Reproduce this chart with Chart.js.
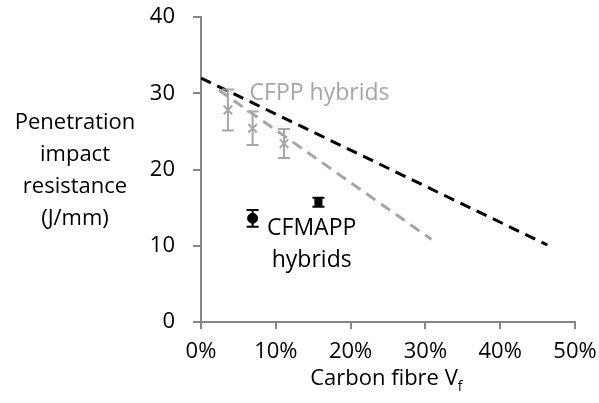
<!DOCTYPE html>
<html>
<head>
<meta charset="utf-8">
<script src="https://cdn.jsdelivr.net/npm/chart.js@4"></script>
<style>
  html, body { margin: 0; padding: 0; background: #fff; }
  #wrap { width: 599px; height: 403px; }
</style>
</head>
<body>
<div id="wrap"><canvas id="chart" width="599" height="403"></canvas></div>
<script>
// x tick labels (carbon fibre volume fraction, %)
const xTicks = [0, 10, 20, 30, 40, 50];
const yTicks = [0, 10, 20, 30, 40];

// CFPP hybrids (grey crosses with error bars)
const cfppX = [3.6, 6.9, 11.1];
const cfppY = [27.8, 25.4, 23.4];
const cfppErr = [2.7, 2.2, 1.9];

// CFMAPP hybrids (black circle + black square)
const cfmappX = [6.9, 15.7];
const cfmappY = [13.6, 15.7];
const cfmappErr = [1.1, 0.6];

// dashed prediction lines
const blackLineX = [0, 46.3];
const blackLineY = [32.0, 10.1];
const greyLineX = [2.4, 30.8];
const greyLineY = [30.4, 10.85];

// text labels in the plot
const labelText = ['CFPP hybrids', 'CFMAPP', 'hybrids'];
const labelX = [6.5, 14.8, 14.8];
const labelY = [30.0, 12.3, 8.1];

const GREY = '#a6a6a6';
const AXIS = '#868686';
const FONT = '"Open Sans", sans-serif';

const toPts = (xs, ys) => xs.map((x, i) => ({ x: x, y: ys[i] }));

// draws vertical error bars for datasets that carry an `err` array
const errorBars = {
    id: 'errorBars',
    afterDatasetsDraw(chart) {
        const ctx = chart.ctx;
        const xs = chart.scales.x, ys = chart.scales.y;
        chart.data.datasets.forEach(ds => {
            if (!ds.err) return;
            ctx.save();
            ctx.strokeStyle = ds.errColor;
            ctx.lineWidth = 2;
            ds.data.forEach((p, i) => {
                const px = xs.getPixelForValue(p.x);
                const top = ys.getPixelForValue(p.y + ds.err[i]);
                const bot = ys.getPixelForValue(p.y - ds.err[i]);
                ctx.beginPath();
                ctx.moveTo(px, top); ctx.lineTo(px, bot);
                ctx.moveTo(px - 6, top); ctx.lineTo(px + 6, top);
                ctx.moveTo(px - 6, bot); ctx.lineTo(px + 6, bot);
                ctx.stroke();
            });
            ctx.restore();
        });
    }
};

// axis titles and in-plot labels
const textLayer = {
    id: 'textLayer',
    afterDraw(chart) {
        const ctx = chart.ctx;
        const xs = chart.scales.x, ys = chart.scales.y;
        const area = chart.chartArea;
        ctx.save();
        ctx.textBaseline = 'middle';
        ctx.textAlign = 'center';

        // y title, horizontal, four lines
        ctx.fillStyle = '#000';
        ctx.font = '22px ' + FONT;
        const yTitle = ['Penetration', 'impact', 'resistance', '(J/mm)'];
        yTitle.forEach((t, i) => ctx.fillText(t, 75, 123 + i * 32));

        // x title with subscript
        const cx = (area.left + area.right) / 2;
        const main = 'Carbon fibre V';
        const w = ctx.measureText(main).width;
        ctx.textAlign = 'left';
        ctx.fillText(main, cx - w / 2 - 4, 379);
        ctx.font = '14px ' + FONT;
        ctx.fillText('f', cx + w / 2 - 4, 387);

        // labels in plot
        ctx.textAlign = 'left';
        ctx.fillStyle = GREY;
        ctx.font = '23px ' + FONT;
        ctx.fillText(labelText[0], xs.getPixelForValue(labelX[0]), ys.getPixelForValue(labelY[0]));
        ctx.textAlign = 'center';
        ctx.fillStyle = '#000';
        for (let i = 1; i < labelText.length; i++) {
            ctx.fillText(labelText[i], xs.getPixelForValue(labelX[i]), ys.getPixelForValue(labelY[i]));
        }
        ctx.restore();
    }
};

new Chart(document.getElementById('chart'), {
    type: 'scatter',
    data: {
        datasets: [
            {
                label: 'Black line',
                type: 'line',
                data: toPts(blackLineX, blackLineY),
                borderColor: '#000',
                borderWidth: 3,
                borderDash: [11, 7],
                pointRadius: 0,
                fill: false
            },
            {
                label: 'Grey line',
                type: 'line',
                data: toPts(greyLineX, greyLineY),
                borderColor: GREY,
                borderWidth: 3,
                borderDash: [11, 7],
                pointRadius: 0,
                fill: false
            },
            {
                label: 'CFPP hybrids',
                data: toPts(cfppX, cfppY),
                err: cfppErr,
                errColor: GREY,
                pointStyle: 'crossRot',
                pointRadius: 6,
                borderColor: GREY,
                backgroundColor: GREY,
                borderWidth: 2
            },
            {
                label: 'CFMAPP hybrids',
                data: toPts(cfmappX, cfmappY),
                err: cfmappErr,
                errColor: '#000',
                pointStyle: ['circle', 'rect'],
                pointRadius: 5,
                borderColor: '#000',
                backgroundColor: '#000',
                borderWidth: 1
            }
        ]
    },
    options: {
        responsive: false,
        animation: false,
        layout: { padding: { top: 17, right: 24, left: 0, bottom: 0 } },
        plugins: {
            legend: { display: false },
            tooltip: { enabled: false }
        },
        scales: {
            x: {
                type: 'linear',
                min: 0,
                max: 50,
                afterBuildTicks: s => { s.ticks = xTicks.map(v => ({ value: v })); },
                afterFit: s => { s.height = 81; s.paddingLeft = 0; s.paddingRight = 0; },
                grid: { drawOnChartArea: false, drawTicks: true, tickLength: 7, color: AXIS, lineWidth: 2 },
                border: { color: AXIS, width: 2 },
                ticks: {
                    color: '#000',
                    font: { family: FONT, size: 22 },
                    padding: 10,
                    maxRotation: 0,
                    callback: v => v + '%'
                }
            },
            y: {
                type: 'linear',
                min: 0,
                max: 40,
                afterBuildTicks: s => { s.ticks = yTicks.map(v => ({ value: v })); },
                afterFit: s => { s.width = 201; s.paddingTop = 0; s.paddingBottom = 0; },
                grid: { drawOnChartArea: false, drawTicks: true, tickLength: 8, color: AXIS, lineWidth: 2 },
                border: { color: AXIS, width: 2 },
                ticks: {
                    color: '#000',
                    font: { family: FONT, size: 22 },
                    padding: 18
                }
            }
        }
    },
    plugins: [errorBars, textLayer]
});
</script>
</body>
</html>
